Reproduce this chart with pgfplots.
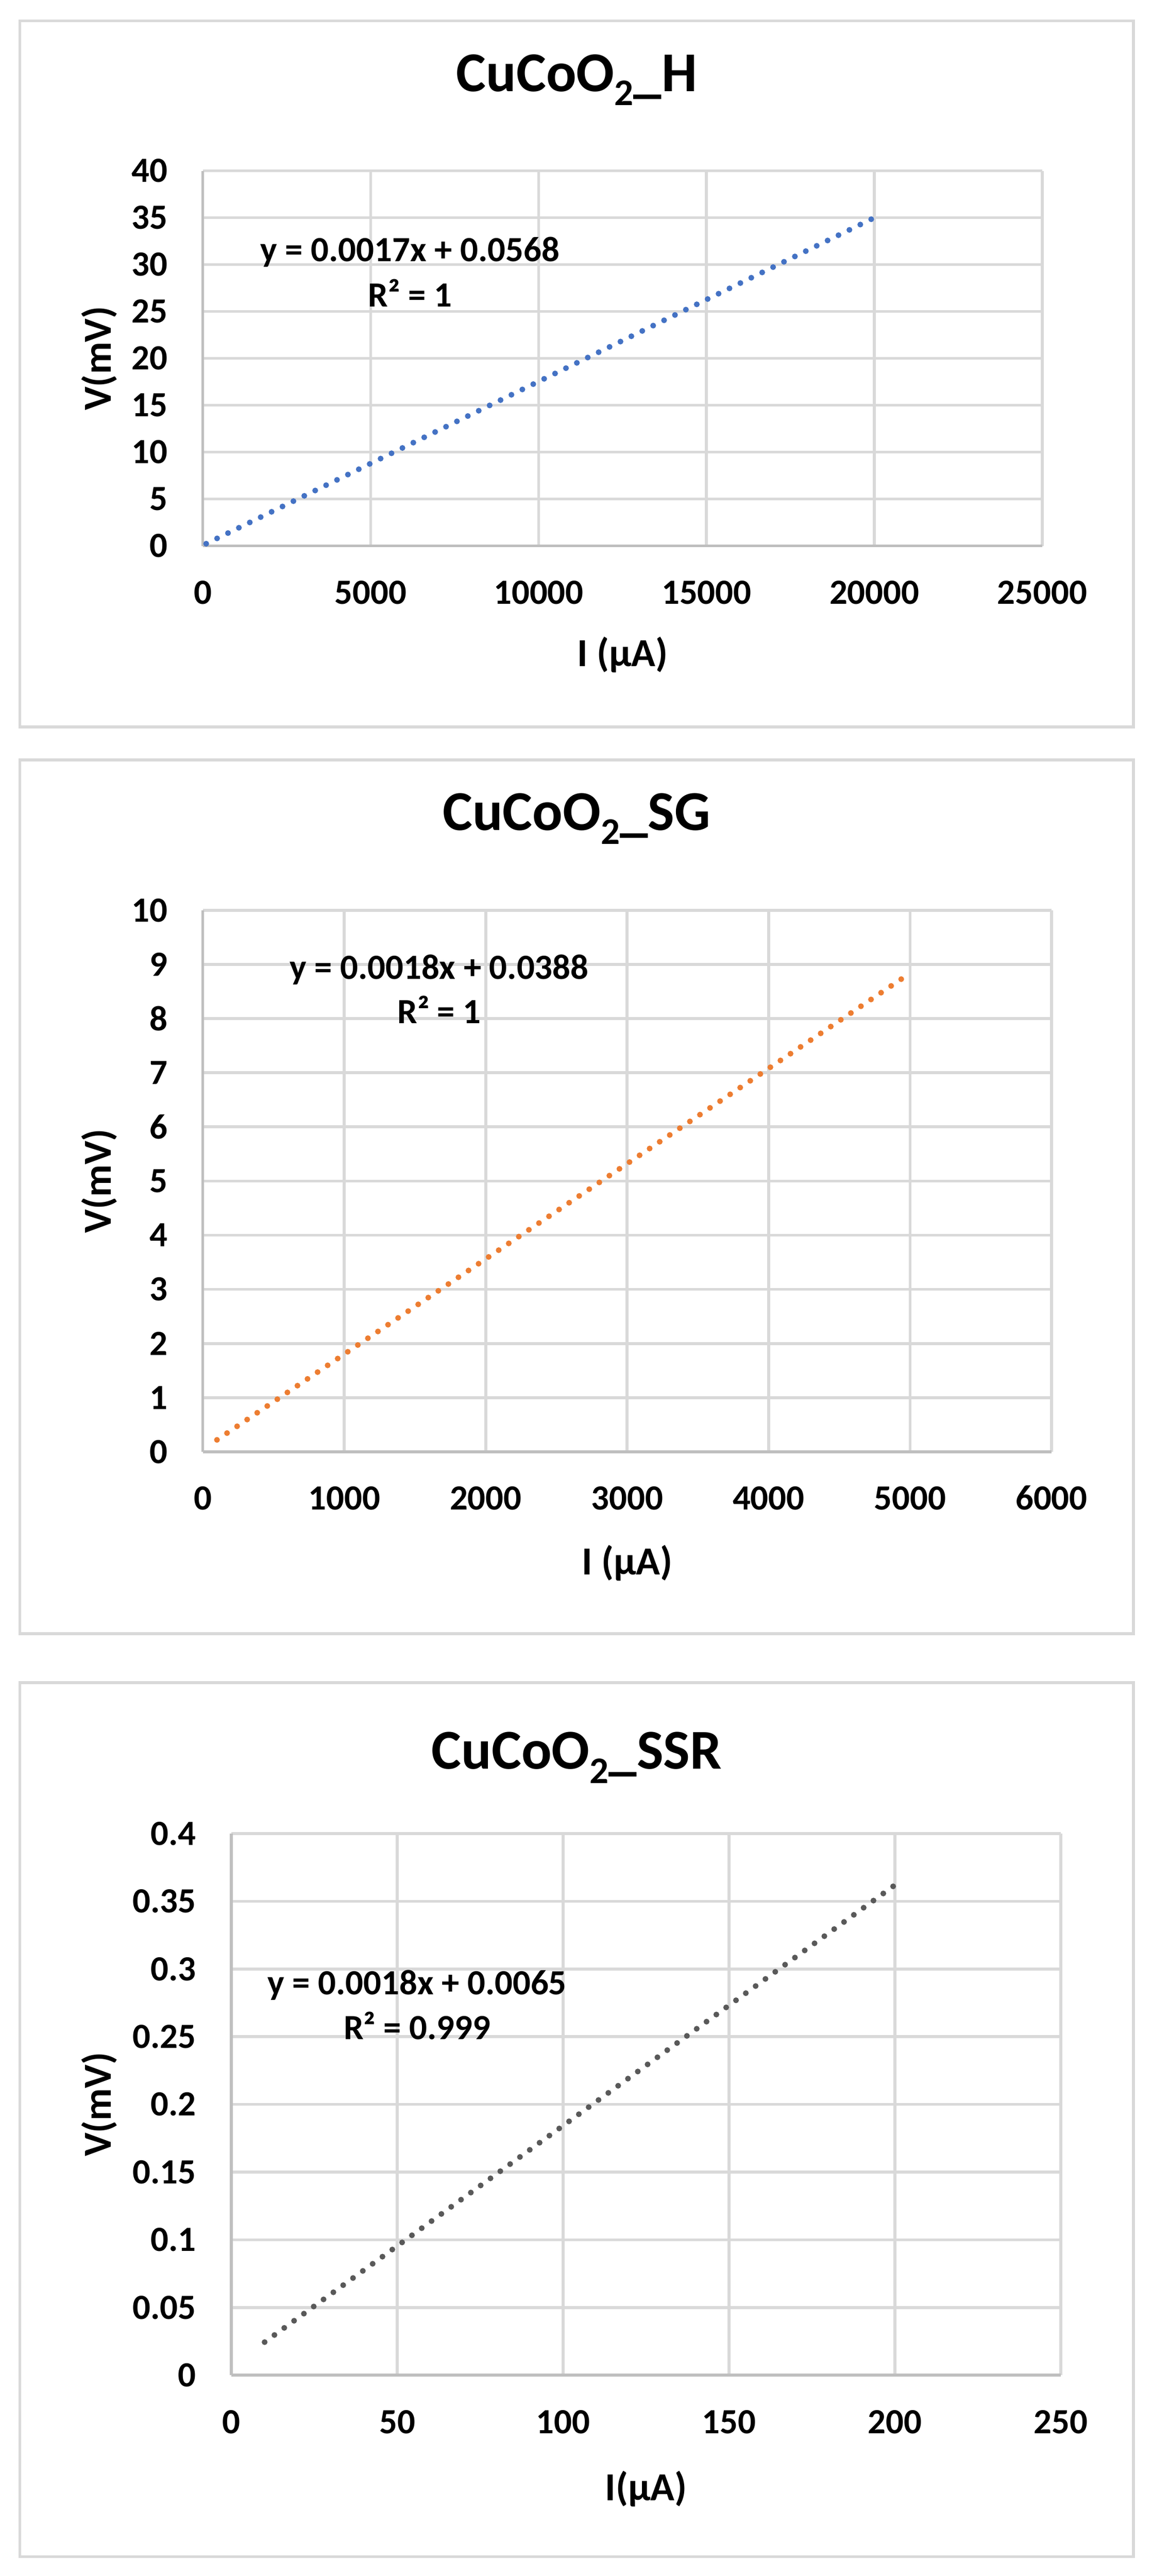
\documentclass[border=0pt]{standalone}
\usepackage{fontspec}
\setmainfont{Carlito}
\usepackage{pgfplots}
\pgfplotsset{compat=1.18}
\definecolor{gridc}{HTML}{D9D9D9}
\definecolor{axc}{HTML}{BFBFBF}
\definecolor{cblue}{HTML}{4472C4}
\definecolor{corange}{HTML}{ED7D31}
\definecolor{cgray}{HTML}{595959}
\pgfplotsset{
  excel/.style={
    scale only axis,
    anchor=south west,
    axis lines*=left,
    axis line style={axc, line width=1.2pt, -},
    grid=major,
    major grid style={gridc, line width=1.2pt},
    major tick length=0pt,
    tick style={draw=none},
    scaled ticks=false,
    /pgf/number format/assume math mode=true,
    /pgf/number format/1000 sep={},
    ticklabel style={font=\bfseries\fontsize{14.6}{17}\selectfont, inner sep=0pt},
    xticklabel style={anchor=base, yshift=-24pt},
    yticklabel style={anchor=east, xshift=-14.4pt},
    title style={font=\bfseries\fontsize{23.2}{28}\selectfont, anchor=base, inner sep=0pt},
    xlabel style={font=\bfseries\fontsize{16.4}{20}\selectfont, anchor=base, inner sep=0pt},
    ylabel style={font=\bfseries\fontsize{16.4}{20}\selectfont, anchor=center, inner sep=0pt},
    clip=false,
  },
}
\tikzset{
  trend/.style={line width=2.4pt, line cap=round, dash pattern=on 0pt off 5pt},
  eq/.style={font=\bfseries\fontsize{14.6}{17}\selectfont, anchor=base, inner sep=0pt},
}
\begin{document}
\begin{tikzpicture}
\useasboundingbox (0,0) rectangle (474.8pt,-1061.8pt);
\fill[white] (0,0) rectangle (474.8pt,-1061.8pt);

% ---------- Panel 1 ----------
\begin{axis}[excel,
  at={(83.6pt,-225pt)}, width=346pt, height=154.6pt,
  xmin=0, xmax=25000, ymin=0, ymax=40,
  xtick={0,5000,10000,15000,20000,25000},
  ytick={0,5,10,15,20,25,30,35,40},
  title={CuCoO\raisebox{-5.8pt}{\fontsize{15.5}{16}\selectfont 2}\_H},
  title style={at={(axis description cs:0.4454,1.1734)}},
  xlabel={I (μA)},
  xlabel style={at={(axis description cs:0.5,-0.3208)}},
  ylabel={V(mV)},
  ylabel style={at={(axis description cs:-0.1231,0.5)}},
]
\addplot[trend, cblue] coordinates {(100,0.23) (20000,35.0)};
\node[eq] at (axis cs:6171,30.32) {y = 0.0017x + 0.0568};
\node[eq] at (axis cs:6171,25.51) {R² = 1};
\end{axis}

% ---------- Panel 2 ----------
\begin{axis}[excel,
  at={(83.6pt,-598.4pt)}, width=349.8pt, height=223.2pt,
  xmin=0, xmax=6000, ymin=0, ymax=10,
  xtick={0,1000,2000,3000,4000,5000,6000},
  ytick={0,1,2,3,4,5,6,7,8,9,10},
  title={CuCoO\raisebox{-5.8pt}{\fontsize{15.5}{16}\selectfont 2}\_SG},
  title style={at={(axis description cs:0.4405,1.1210)}},
  xlabel={I (μA)},
  xlabel style={at={(axis description cs:0.5,-0.2267)}},
  ylabel={V(mV)},
  ylabel style={at={(axis description cs:-0.1218,0.5)}},
]
\addplot[trend, corange] coordinates {(100,0.22) (4950,8.75)};
\node[eq] at (axis cs:1671,8.73) {y = 0.0018x + 0.0388};
\node[eq] at (axis cs:1671,7.91) {R² = 1};
\end{axis}

% ---------- Panel 3 ----------
\begin{axis}[excel,
  at={(95.4pt,-979pt)}, width=341.8pt, height=223.2pt,
  xmin=0, xmax=250, ymin=0, ymax=0.4,
  xtick={0,50,100,150,200,250},
  ytick={0,0.05,0.1,0.15,0.2,0.25,0.3,0.35,0.4},
  yticklabel style={/pgf/number format/.cd, fixed, precision=2},
  title={CuCoO\raisebox{-5.8pt}{\fontsize{15.5}{16}\selectfont 2}\_SSR},
  title style={at={(axis description cs:0.4163,1.0923)}},
  xlabel={I(μA)},
  xlabel style={at={(axis description cs:0.5,-0.2312)}},
  ylabel={V(mV)},
  ylabel style={at={(axis description cs:-0.1592,0.5)}},
]
\addplot[trend, cgray] coordinates {(10,0.0244) (200,0.362)};
\node[eq] at (axis cs:56.0,0.2810) {y = 0.0018x + 0.0065};
\node[eq] at (axis cs:56.0,0.2480) {R² = 0.999};
\end{axis}

% ---------- chart frames ----------
\draw[gridc, line width=1.2pt] (8.2pt,-8.6pt) rectangle (467.2pt,-299.6pt);
\draw[gridc, line width=1.2pt] (8.2pt,-313.2pt) rectangle (467.2pt,-673.4pt);
\draw[gridc, line width=1.2pt] (8.2pt,-693.6pt) rectangle (467.2pt,-1053.8pt);
\end{tikzpicture}
\end{document}
